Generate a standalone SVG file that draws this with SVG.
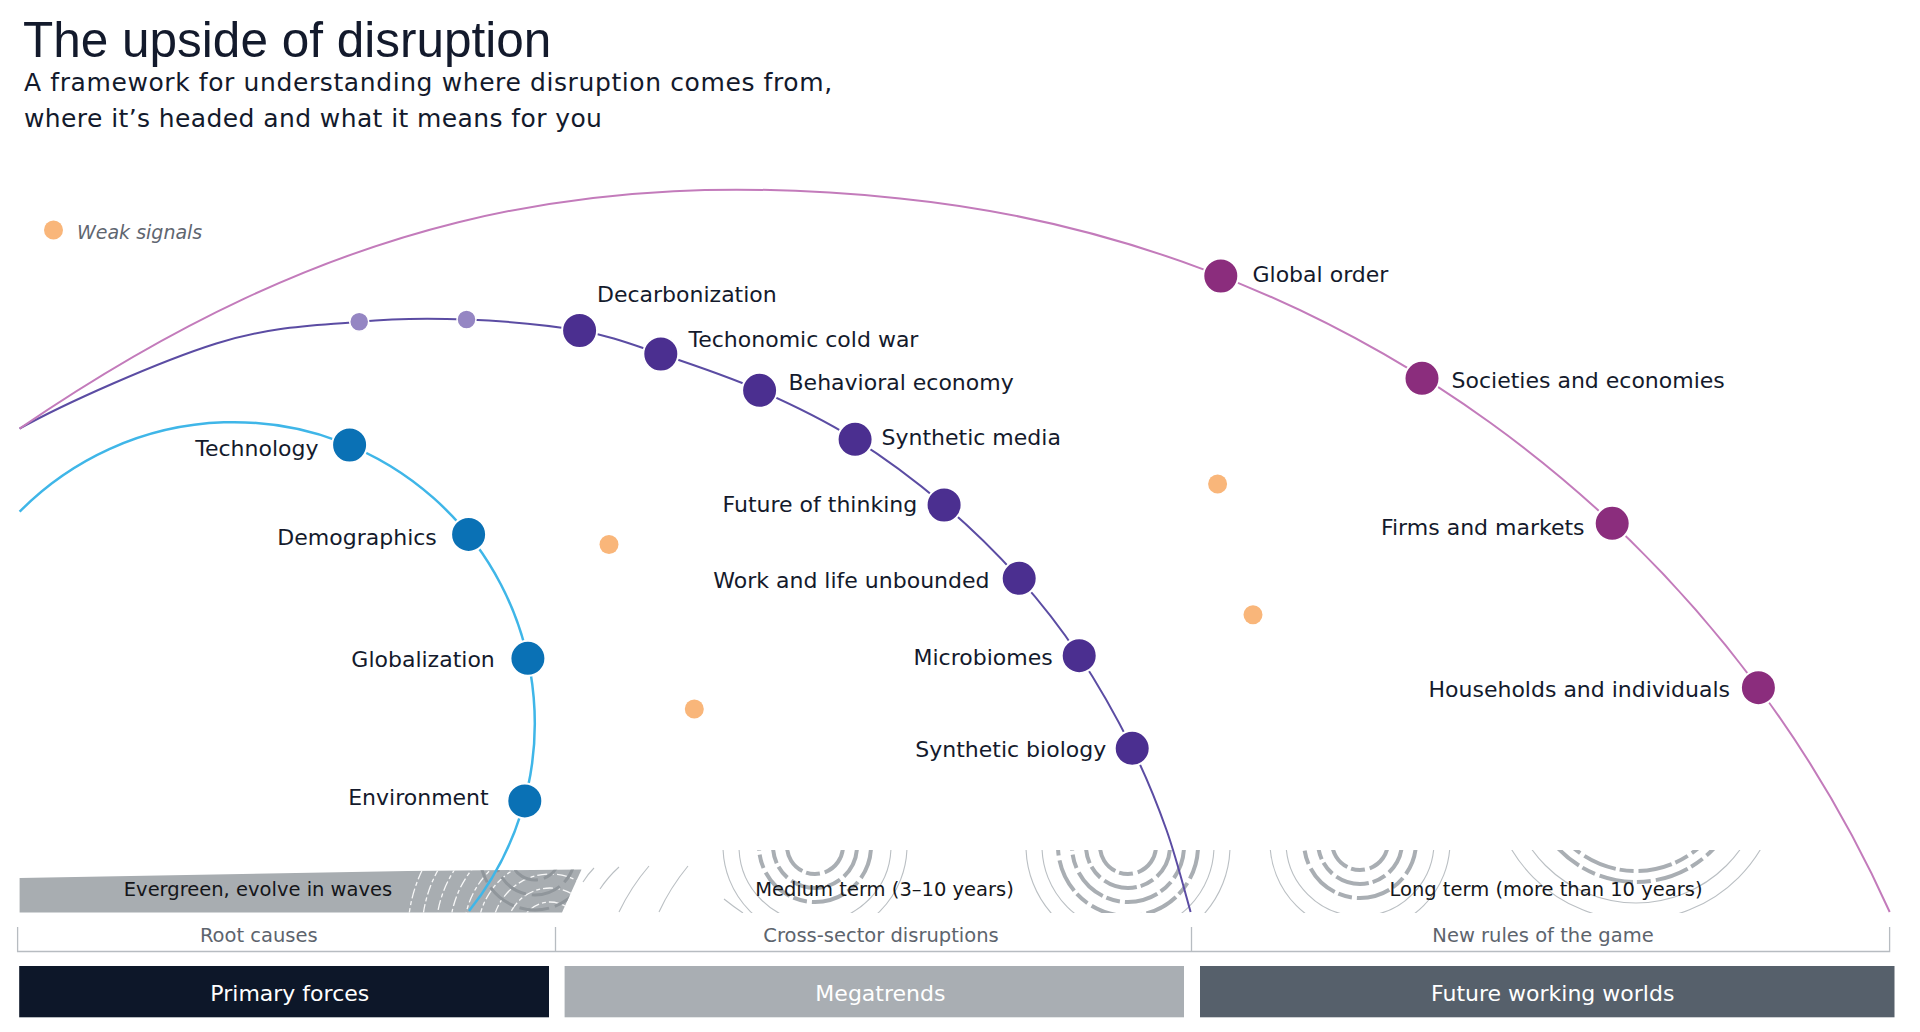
<svg xmlns="http://www.w3.org/2000/svg" width="1920" height="1032" viewBox="0 0 1920 1032">
<defs>
<style>
.title{font-family:"Liberation Sans",Arial,sans-serif;font-size:49.5px;fill:#131a2c}
.sub{font-family:"DejaVu Sans",sans-serif;font-size:25px;letter-spacing:0.6px;fill:#131a2c}
.lbl{font-family:"DejaVu Sans",sans-serif;font-size:22px;fill:#141a2c}
.end{text-anchor:end}
.mid{text-anchor:middle}
.band{font-family:"DejaVu Sans",sans-serif;font-size:19.5px;fill:#15161a;text-anchor:middle}
.brk{font-family:"DejaVu Sans",sans-serif;font-size:19.5px;fill:#5d646d;text-anchor:middle}
.box{font-family:"DejaVu Sans",sans-serif;font-size:22px;fill:#ffffff;text-anchor:middle}
.legend{font-family:"DejaVu Sans",sans-serif;font-size:19px;font-style:italic;fill:#5f6670}
.nb{fill:#0a71b5;stroke:#ffffff;stroke-width:2}
.np{fill:#4b2f90;stroke:#ffffff;stroke-width:2}
.nk{fill:#8b2d7d;stroke:#ffffff;stroke-width:2}
.ns{fill:#9586c3;stroke:#ffffff;stroke-width:1.5}
.ws{fill:#f9b67a}
.ring{fill:none;stroke:#a9aeb3;stroke-width:4;stroke-dasharray:34 5 14 4}
.thin{fill:none;stroke:#babfc3;stroke-width:1.1}
.wring{fill:none;stroke:#ffffff;stroke-width:1.3;stroke-dasharray:10 3 4 3;opacity:0.9}
.dring{fill:none;stroke:#90969b;stroke-width:3;stroke-dasharray:30 6}
</style>
<clipPath id="bandClip"><polygon points="19.6,878 408,871 581.5,869.5 562,912.5 19.6,912.5"/></clipPath>
<clipPath id="waveClip"><rect x="575" y="850" width="1320" height="63"/></clipPath>
</defs>
<rect x="0" y="0" width="1920" height="1032" fill="#ffffff"/>

<g id="header">
<text class="title" x="23" y="56.7">The upside of disruption</text>
<text class="sub" x="24" y="90.7">A framework for understanding where disruption comes from,</text>
<text class="sub" x="24" y="126.7" style="letter-spacing:0.4px">where it’s headed and what it means for you</text>
</g>

<g id="legend">
<circle class="ws" cx="53.5" cy="230" r="9.5"/>
<text class="legend" x="77" y="238.5">Weak signals</text>
</g>

<g id="wave-band">
<polygon points="19.6,878 408,871 581.5,869.5 562,912.5 19.6,912.5" fill="#a8adb1"/>
<g clip-path="url(#bandClip)">
<circle class="wring" cx="550" cy="932" r="30"/>
<circle class="wring" cx="550" cy="932" r="44"/>
<circle class="wring" cx="550" cy="932" r="58"/>
<circle class="wring" cx="550" cy="932" r="72"/>
<circle class="wring" cx="550" cy="932" r="86"/>
<circle class="wring" cx="550" cy="932" r="100"/>
<circle class="wring" cx="550" cy="932" r="114"/>
<circle class="wring" cx="550" cy="932" r="128"/>
<circle class="wring" cx="550" cy="932" r="142"/>
<circle class="dring" cx="535" cy="855" r="25"/>
<circle class="dring" cx="535" cy="855" r="40"/>
<circle class="dring" cx="535" cy="855" r="55"/>
</g>
<g clip-path="url(#waveClip)">
<circle class="ring" cx="815" cy="846" r="28"/>
<circle class="ring" cx="815" cy="846" r="42"/>
<circle class="ring" cx="815" cy="846" r="56"/>
<circle class="thin" cx="815" cy="846" r="76"/>
<circle class="thin" cx="815" cy="846" r="92"/>
<circle class="ring" cx="1128" cy="846" r="28"/>
<circle class="ring" cx="1128" cy="846" r="42"/>
<circle class="ring" cx="1128" cy="846" r="56"/>
<circle class="ring" cx="1128" cy="846" r="70"/>
<circle class="thin" cx="1128" cy="846" r="86"/>
<circle class="thin" cx="1128" cy="846" r="102"/>
<circle class="ring" cx="1360" cy="842" r="28"/>
<circle class="ring" cx="1360" cy="842" r="42"/>
<circle class="ring" cx="1360" cy="842" r="56"/>
<circle class="thin" cx="1360" cy="842" r="74"/>
<circle class="thin" cx="1360" cy="842" r="90"/>
<circle class="ring" cx="1636" cy="775" r="96"/>
<circle class="ring" cx="1636" cy="775" r="107"/>
<circle class="thin" cx="1636" cy="775" r="128"/>
<circle class="thin" cx="1636" cy="775" r="145"/>
<path class="thin" d="M583,882 Q588,874 594,868 M600,889 Q608,877 619,867 M619,912 Q631,887 649,866 M659,912 Q670,888 688,866 M724,899 Q734,907 743,913"/>
</g>
<text class="band" x="258" y="895.5">Evergreen, evolve in waves</text>
<text class="band" x="884.5" y="895.5">Medium term (3–10 years)</text>
<text class="band" x="1546" y="895.5">Long term (more than 10 years)</text>
</g>

<g id="connectors" fill="none">
<path id="arc-primary" d="M19.6,511.7 A301,301 0 0 1 469,911" stroke="#3fb6e8" stroke-width="2.5"/>
<path id="arc-megatrends" d="M19.6,428.6 C64.6,403.4 159.7,361.3 216.3,343.5 C272.9,325.7 317.5,325.7 359.2,321.7 C400.9,317.7 429.8,318 466.5,319.5 C503.2,321 547.2,324.75 579.6,330.5 C612,336.25 630.8,344 660.8,354 C690.8,364 727.2,376.1 759.6,390.3 C792,404.5 824.35,420.2 855.1,439.3 C885.85,458.4 916.75,481.8 944.1,505 C971.45,528.2 996.7,553.2 1019.2,578.3 C1041.7,603.4 1060.4,627.4 1079.2,655.7 C1098,684 1117.65,719.25 1132.2,748.3 C1146.75,777.35 1156.8,802.7 1166.5,830 C1176.2,857.3 1186.6,898.3 1190.6,912" stroke="#5b4ca3" stroke-width="2"/>
<path id="arc-worlds" d="M19.6,428.6 C329.4,217.1 586.6,166.4 900,198.4 A1221.5,1221.5 0 0 1 1889.7,912" stroke="#c37bbb" stroke-width="2"/>
</g>

<g id="primary-forces">
<g id="node-technology"><circle class="nb" cx="349.6" cy="445" r="17.5"/><text class="lbl end" x="318.5" y="456">Technology</text></g>
<g id="node-demographics"><circle class="nb" cx="468.6" cy="534.4" r="17.5"/><text class="lbl end" x="436.8" y="545.3">Demographics</text></g>
<g id="node-globalization"><circle class="nb" cx="527.9" cy="658.3" r="17.5"/><text class="lbl end" x="494.8" y="667.3">Globalization</text></g>
<g id="node-environment"><circle class="nb" cx="524.8" cy="800.9" r="17.5"/><text class="lbl end" x="488.7" y="805.3">Environment</text></g>
</g>

<g id="megatrends">
<g id="node-minor-1"><circle class="ns" cx="359.2" cy="321.7" r="9.5"/></g>
<g id="node-minor-2"><circle class="ns" cx="466.5" cy="319.5" r="9.5"/></g>
<g id="node-decarbonization"><circle class="np" cx="579.6" cy="330.5" r="17.5"/><text class="lbl" x="597" y="301.7">Decarbonization</text></g>
<g id="node-techonomic"><circle class="np" cx="660.8" cy="354" r="17.5"/><text class="lbl" x="688.5" y="346.7">Techonomic cold war</text></g>
<g id="node-behavioral"><circle class="np" cx="759.6" cy="390.3" r="17.5"/><text class="lbl" x="788.5" y="390">Behavioral economy</text></g>
<g id="node-synthetic-media"><circle class="np" cx="855.1" cy="439.3" r="17.5"/><text class="lbl" x="881.5" y="445">Synthetic media</text></g>
<g id="node-future-thinking"><circle class="np" cx="944.1" cy="505" r="17.5"/><text class="lbl end" x="917.2" y="511.7">Future of thinking</text></g>
<g id="node-work-life"><circle class="np" cx="1019.2" cy="578.3" r="17.5"/><text class="lbl end" x="989.5" y="588.3">Work and life unbounded</text></g>
<g id="node-microbiomes"><circle class="np" cx="1079.2" cy="655.7" r="17.5"/><text class="lbl end" x="1052.7" y="665">Microbiomes</text></g>
<g id="node-synthetic-biology"><circle class="np" cx="1132.2" cy="748.3" r="17.5"/><text class="lbl end" x="1106.2" y="756.7">Synthetic biology</text></g>
</g>

<g id="future-working-worlds">
<g id="node-global-order"><circle class="nk" cx="1220.8" cy="276" r="17.5"/><text class="lbl" x="1252.5" y="281.7">Global order</text></g>
<g id="node-societies"><circle class="nk" cx="1422" cy="378.3" r="17.5"/><text class="lbl" x="1451.5" y="388.3">Societies and economies</text></g>
<g id="node-firms"><circle class="nk" cx="1612.2" cy="523.3" r="17.5"/><text class="lbl end" x="1584.6" y="535">Firms and markets</text></g>
<g id="node-households"><circle class="nk" cx="1758.4" cy="687.7" r="17.5"/><text class="lbl end" x="1730" y="696.7">Households and individuals</text></g>
</g>

<g id="weak-signals">
<circle class="ws" cx="609" cy="544.5" r="9.5"/>
<circle class="ws" cx="694.3" cy="709" r="9.5"/>
<circle class="ws" cx="1217.6" cy="484" r="9.5"/>
<circle class="ws" cx="1253" cy="614.8" r="9.5"/>
</g>

<g id="horizon-brackets">
<path d="M17.6,927 V951.5 H1889.6 V927 M555.5,927 V951.5 M1191.5,927 V951.5" fill="none" stroke="#b7bcc1" stroke-width="1.3"/>
<text class="brk" x="258.8" y="942">Root causes</text>
<text class="brk" x="881" y="942">Cross-sector disruptions</text>
<text class="brk" x="1543" y="942">New rules of the game</text>
</g>

<g id="category-boxes">
<g id="box-primary"><rect x="19.2" y="966" width="529.8" height="51.3" fill="#0d1729"/><text class="box" x="289.8" y="1001.3">Primary forces</text></g>
<g id="box-megatrends"><rect x="564.6" y="966" width="619.4" height="51.3" fill="#a9aeb3"/><text class="box" x="880.4" y="1001.3" fill="#f0f2f4">Megatrends</text></g>
<g id="box-worlds"><rect x="1200" y="966" width="694.5" height="51.3" fill="#56606b"/><text class="box" x="1552.7" y="1001.3">Future working worlds</text></g>
</g>
</svg>
